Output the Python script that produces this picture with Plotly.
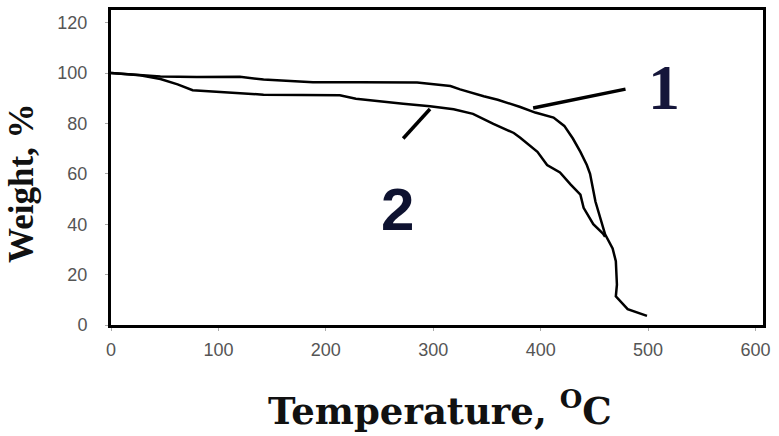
import plotly.graph_objects as go

# TGA curves (temperature in °C, weight in %)
temp_1 = [0, 20, 46, 80, 120, 142, 188, 232, 285, 316, 325, 347, 360, 381, 395, 412,
          422, 430, 437, 443, 446, 451, 458, 460, 467, 470, 471, 470, 481, 499]
weight_1 = [100, 99.5, 98.6, 98.4, 98.5, 97.4, 96.3, 96.3, 96.2, 94.8, 93.5, 90.8, 89.4,
            86.5, 84.3, 82.3, 79, 74, 68.7, 63.5, 60, 49, 38.5, 36, 30.4, 25.3, 16, 11.4,
            6.3, 3.6]

temp_2 = [0, 27, 46, 62, 76, 100, 142, 213, 228, 272, 297, 319, 337, 356, 375, 381,
          397, 406, 418, 428, 437, 440, 449, 458, 460]
weight_2 = [100, 99.1, 97.6, 95.5, 93.2, 92.5, 91.4, 91.2, 89.8, 87.8, 86.8, 85.6, 83.8,
            79.8, 76.2, 74.3, 68.7, 63.5, 60.5, 55.7, 51.7, 46.5, 40, 36.3, 35]

x_ticks = [0, 100, 200, 300, 400, 500, 600]
y_ticks = [0, 20, 40, 60, 80, 100, 120]

fig = go.Figure()
fig.add_trace(go.Scatter(x=temp_1, y=weight_1, mode="lines",
                         line=dict(color="black", width=2.5), showlegend=False))
fig.add_trace(go.Scatter(x=temp_2, y=weight_2, mode="lines",
                         line=dict(color="black", width=2.5), showlegend=False))

# leader lines to the curve numbers
fig.add_shape(type="line", x0=393, y0=86.1, x1=479, y1=93.6,
              line=dict(color="black", width=3.5))
fig.add_shape(type="line", x0=272, y0=74, x1=297, y1=85.7,
              line=dict(color="black", width=3.5))

fig.add_annotation(x=515, y=94.4, text="<b>1</b>", showarrow=False,
                   font=dict(family="Liberation Serif", size=64, color="#15163a"))
fig.add_annotation(x=267, y=45.8, text="<b>2</b>", showarrow=False,
                   font=dict(family="Liberation Sans", size=60, color="#0e1230"))

fig.add_annotation(xref="paper", yref="paper", x=0.505, y=-0.35,
                   text="<b>Temperature, <sup>O</sup>C</b>", showarrow=False,
                   font=dict(family="DejaVu Serif", size=37, color="#111"))
fig.add_annotation(xref="paper", yref="paper", x=-0.17, y=0.45, textangle=-90,
                   text="<b>Weight, %</b>", showarrow=False,
                   font=dict(family="Liberation Serif", size=35, color="#111"))

fig.update_xaxes(range=[0, 607], tickvals=x_ticks, showgrid=False, zeroline=False,
                 showline=True, linecolor="black", linewidth=3, mirror=True,
                 ticks="outside", ticklen=3, tickcolor="#aaa",
                 ticklabelstandoff=3,
                 tickfont=dict(family="Liberation Sans", size=18, color="#555"))
fig.update_yaxes(range=[0, 125], tickvals=y_ticks, showgrid=False, zeroline=False,
                 showline=True, linecolor="black", linewidth=3, mirror=True,
                 ticks="outside", ticklen=3, tickcolor="#aaa",
                 ticklabelstandoff=14,
                 tickfont=dict(family="Liberation Sans", size=18, color="#555"))

fig.update_layout(width=779, height=436, margin=dict(l=111, r=16, t=7, b=111),
                  plot_bgcolor="white", paper_bgcolor="white")

fig.write_html("out.html", config={"displayModeBar": False},
               post_script="document.body.style.margin='0';")
